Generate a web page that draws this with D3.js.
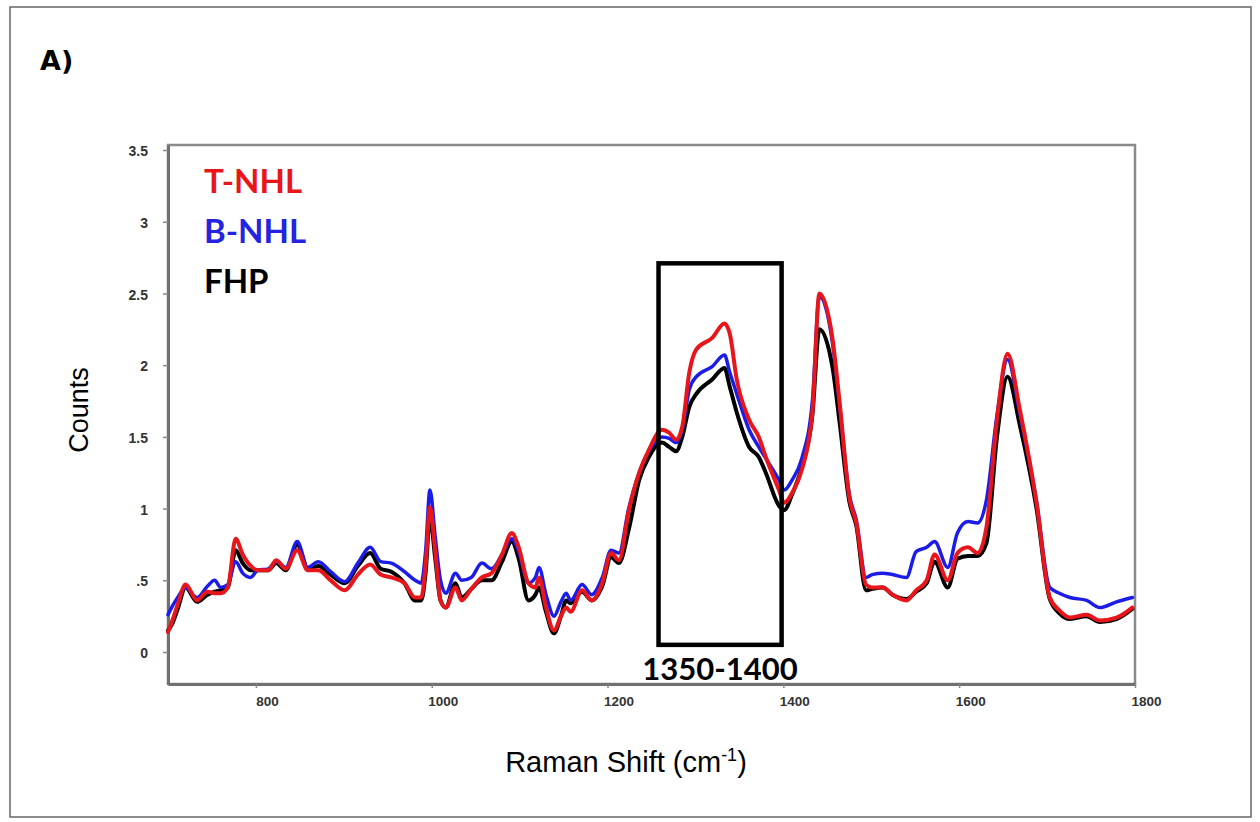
<!DOCTYPE html>
<html>
<head>
<meta charset="utf-8">
<script src="https://cdn.jsdelivr.net/npm/d3@7"></script>
<style>
  html, body { margin: 0; padding: 0; background: #fff; }
  svg { display: block; }
</style>
</head>
<body>
<svg id="chart" width="1260" height="822"></svg>
<script>
// ---------------- DATA ----------------
const wavenumbers = [700, 705, 711, 720, 733, 745, 753, 760, 768, 777, 785, 794, 802, 814, 823, 834, 847, 859, 871, 885,
  901, 916, 930, 942, 954, 969, 981, 988, 993, 998, 1004, 1010, 1016, 1027, 1034, 1045, 1057, 1068, 1080, 1091,
  1099, 1110, 1118, 1122, 1130, 1139, 1147, 1153, 1158, 1171, 1182, 1194, 1204, 1213, 1224, 1236, 1247, 1262, 1270, 1278,
  1285, 1293, 1301, 1319, 1333, 1339, 1347, 1361, 1372, 1380, 1395, 1401, 1410, 1421, 1433, 1441, 1456, 1464, 1475, 1483,
  1494, 1501, 1513, 1524, 1540, 1551, 1563, 1572, 1587, 1598, 1610, 1621, 1631, 1643, 1655, 1669, 1688, 1703, 1714, 1726,
  1745, 1760, 1779, 1797];

const tnhl = [0.14, 0.22, 0.33, 0.47, 0.36, 0.42, 0.41, 0.41, 0.45, 0.79, 0.68, 0.60, 0.57, 0.57, 0.64, 0.58, 0.71, 0.57, 0.57, 0.50,
  0.43, 0.54, 0.61, 0.54, 0.52, 0.48, 0.38, 0.38, 0.60, 1.01, 0.70, 0.36, 0.31, 0.45, 0.36, 0.44, 0.52, 0.55, 0.68, 0.83,
  0.73, 0.48, 0.45, 0.52, 0.31, 0.15, 0.25, 0.31, 0.28, 0.43, 0.36, 0.48, 0.69, 0.64, 0.98, 1.25, 1.41, 1.55, 1.53, 1.48,
  1.57, 1.95, 2.11, 2.19, 2.29, 2.22, 1.90, 1.62, 1.50, 1.36, 1.13, 1.04, 1.11, 1.27, 1.67, 2.50, 2.18, 1.74, 1.08, 0.90,
  0.47, 0.45, 0.45, 0.40, 0.36, 0.43, 0.50, 0.68, 0.50, 0.69, 0.73, 0.69, 0.87, 1.62, 2.08, 1.69, 1.04, 0.38, 0.29, 0.24,
  0.26, 0.22, 0.24, 0.31];

const bnhl = [0.26, 0.32, 0.38, 0.45, 0.38, 0.46, 0.50, 0.45, 0.47, 0.63, 0.55, 0.52, 0.57, 0.58, 0.63, 0.59, 0.77, 0.59, 0.63, 0.56,
  0.49, 0.62, 0.73, 0.63, 0.62, 0.56, 0.50, 0.48, 0.70, 1.13, 0.80, 0.50, 0.41, 0.55, 0.50, 0.52, 0.62, 0.58, 0.68, 0.79,
  0.70, 0.48, 0.52, 0.59, 0.40, 0.25, 0.35, 0.41, 0.36, 0.47, 0.40, 0.52, 0.71, 0.69, 1.00, 1.25, 1.40, 1.50, 1.49, 1.46,
  1.55, 1.83, 1.92, 1.99, 2.07, 1.95, 1.80, 1.55, 1.43, 1.35, 1.20, 1.13, 1.20, 1.35, 1.75, 2.48, 2.15, 1.72, 1.10, 0.92,
  0.52, 0.54, 0.55, 0.54, 0.52, 0.70, 0.73, 0.77, 0.59, 0.83, 0.91, 0.90, 1.06, 1.65, 2.04, 1.66, 1.05, 0.45, 0.41, 0.38,
  0.36, 0.31, 0.35, 0.38];

const fhp = [0.15, 0.20, 0.30, 0.45, 0.35, 0.40, 0.42, 0.43, 0.45, 0.71, 0.62, 0.57, 0.57, 0.57, 0.62, 0.57, 0.75, 0.58, 0.60, 0.54,
  0.48, 0.60, 0.69, 0.58, 0.56, 0.48, 0.36, 0.36, 0.55, 0.94, 0.65, 0.36, 0.31, 0.48, 0.38, 0.44, 0.50, 0.50, 0.63, 0.77,
  0.65, 0.36, 0.40, 0.45, 0.28, 0.13, 0.25, 0.36, 0.34, 0.42, 0.36, 0.46, 0.66, 0.62, 0.85, 1.20, 1.36, 1.46, 1.43, 1.40,
  1.50, 1.71, 1.80, 1.90, 1.98, 1.85, 1.67, 1.43, 1.36, 1.25, 1.02, 0.99, 1.10, 1.29, 1.65, 2.25, 1.98, 1.60, 1.05, 0.88,
  0.43, 0.44, 0.45, 0.40, 0.37, 0.42, 0.48, 0.63, 0.45, 0.65, 0.67, 0.67, 0.76, 1.50, 1.92, 1.58, 1.00, 0.37, 0.27, 0.23,
  0.25, 0.21, 0.23, 0.30];

const seriesNames = ["FHP", "B-NHL", "T-NHL"];            // drawing order
const legendNames = ["T-NHL", "B-NHL", "FHP"];            // legend order
const xTicks = [800, 1000, 1200, 1400, 1600, 1800];
const xTickLabels = ["800", "1000", "1200", "1400", "1600", "1800"];
const yTicks = [0, 0.5, 1, 1.5, 2, 2.5, 3, 3.5];
const yTickLabels = ["0", ".5", "1", "1.5", "2", "2.5", "3", "3.5"];
const boxRange = [1258, 1398];     // highlighted region (x)
const boxLevels = [0.05, 2.71];    // highlighted region (y)
const boxLabel = "1350-1400";
const panelLabel = "A)";
const xTitle = "Raman Shift (cm";
const xTitleSup = "-1";
const yTitle = "Counts";

// ---------------- STYLE ----------------
const colors = { "T-NHL": "#e8161b", "B-NHL": "#1c1ce8", "FHP": "#000000" };
const legendColors = { "T-NHL": "#e8161b", "B-NHL": "#2424e0", "FHP": "#000000" };
const widths = { "T-NHL": 4, "B-NHL": 3.5, "FHP": 4 };
const valuesBy = { "T-NHL": tnhl, "B-NHL": bnhl, "FHP": fhp };

const svg = d3.select("#chart");
const plot = { left: 168, right: 1135, top: 145, bottom: 684 };

// outer frame
svg.append("rect")
  .attr("x", 10).attr("y", 7).attr("width", 1241).attr("height", 810)
  .attr("fill", "none").attr("stroke", "#666").attr("stroke-width", 1.5);

const x = d3.scaleLinear().domain([700, 1800]).range([plot.left, plot.right]);
const y = d3.scaleLinear().domain([-0.223, 3.535]).range([plot.bottom, plot.top]);

// plot frame (top/right)
svg.append("rect")
  .attr("x", plot.left).attr("y", plot.top)
  .attr("width", plot.right - plot.left).attr("height", plot.bottom - plot.top)
  .attr("fill", "none").attr("stroke", "#8a8a8a").attr("stroke-width", 2.5);

// axes
const xAxis = d3.axisBottom(x).tickValues(xTicks)
  .tickFormat((d, i) => xTickLabels[i]).tickSize(4).tickSizeOuter(0);
const gx = svg.append("g").attr("transform", `translate(0,${plot.bottom})`).call(xAxis);
gx.select(".domain").attr("stroke", "#707070").attr("stroke-width", 3);
gx.selectAll(".tick line").attr("stroke", "#888").attr("stroke-width", 1.5);
gx.selectAll(".tick text")
  .attr("dx", 11).attr("dy", "1.1em")
  .attr("font-family", "Liberation Sans, Arial, sans-serif")
  .attr("font-size", 13.5).attr("font-weight", "bold").attr("fill", "#333");

const yAxis = d3.axisLeft(y).tickValues(yTicks)
  .tickFormat((d, i) => yTickLabels[i]).tickSize(5).tickSizeOuter(0);
const gy = svg.append("g").attr("transform", `translate(${plot.left},0)`).call(yAxis);
gy.select(".domain").attr("stroke", "#707070").attr("stroke-width", 3);
gy.selectAll(".tick line").attr("stroke", "#888").attr("stroke-width", 1.5);
gy.selectAll(".tick text")
  .attr("x", -20).attr("dy", "0.4em")
  .attr("font-family", "Liberation Sans, Arial, sans-serif")
  .attr("font-size", 14).attr("font-weight", "bold").attr("fill", "#333");

// lines
const line = d3.line()
  .x((d, i) => x(wavenumbers[i]))
  .y(d => y(d))
  .curve(d3.curveMonotoneX);

seriesNames.forEach(name => {
  svg.append("path")
    .datum(valuesBy[name])
    .attr("d", line)
    .attr("fill", "none")
    .attr("stroke", colors[name])
    .attr("stroke-width", widths[name])
    .attr("stroke-linejoin", "round")
    .attr("stroke-linecap", "round");
});

// highlighted box
svg.append("rect")
  .attr("x", x(boxRange[0])).attr("y", y(boxLevels[1]))
  .attr("width", x(boxRange[1]) - x(boxRange[0]))
  .attr("height", y(boxLevels[0]) - y(boxLevels[1]))
  .attr("fill", "none").attr("stroke", "#000").attr("stroke-width", 4.5);

svg.append("text")
  .attr("x", (x(boxRange[0]) + x(boxRange[1])) / 2).attr("y", 680)
  .attr("text-anchor", "middle")
  .attr("font-family", "Lato, 'Open Sans', sans-serif")
  .attr("font-weight", "bold").attr("font-size", 31).attr("fill", "#000")
  .text(boxLabel);

// legend
legendNames.forEach((name, i) => {
  svg.append("text")
    .attr("x", 204).attr("y", 193 + i * 50)
    .attr("font-family", "Lato, 'Open Sans', sans-serif")
    .attr("font-weight", "bold").attr("font-size", 33)
    .attr("fill", legendColors[name])
    .text(name);
});

// panel label
svg.append("text")
  .attr("x", 40).attr("y", 70)
  .attr("font-family", "DejaVu Sans, Verdana, sans-serif")
  .attr("font-weight", "bold").attr("font-size", 27).attr("fill", "#000")
  .text(panelLabel);

// axis titles
svg.append("text")
  .attr("transform", "translate(88,410) rotate(-90)")
  .attr("text-anchor", "middle")
  .attr("font-family", "Liberation Sans, Arial, sans-serif")
  .attr("font-size", 27).attr("fill", "#000")
  .text(yTitle);

const xt = svg.append("text")
  .attr("x", 626).attr("y", 772)
  .attr("text-anchor", "middle")
  .attr("font-family", "Liberation Sans, Arial, sans-serif")
  .attr("font-size", 29).attr("fill", "#000");
xt.append("tspan").text(xTitle);
xt.append("tspan").attr("dy", -11).attr("font-size", 18).text(xTitleSup);
xt.append("tspan").attr("dy", 11).text(")");
</script>
</body>
</html>
